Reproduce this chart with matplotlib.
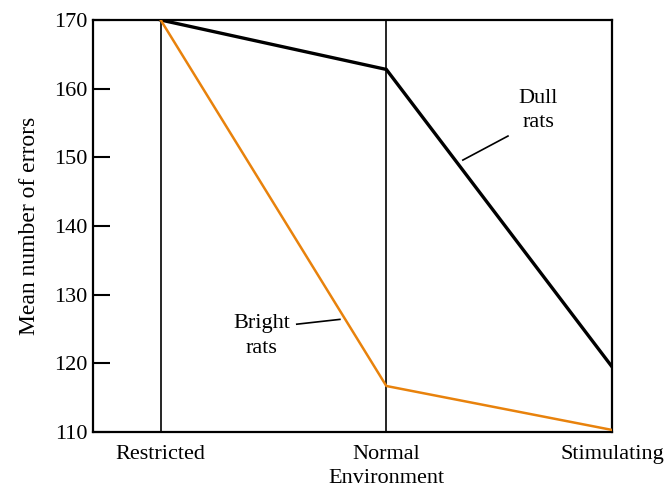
import numpy as np
import matplotlib
matplotlib.use('Agg')
import matplotlib.pyplot as plt

# environment categories and mean errors
environments = ['Restricted', 'Normal\nEnvironment', 'Stimulating']
dull_rats = [170, 162.8, 119.5]
bright_rats = [170, 116.7, 110.3]
y_ticks = [110, 120, 130, 140, 150, 160, 170]

plt.rcParams['font.family'] = ['Liberation Serif', 'DejaVu Serif']

fig = plt.figure(figsize=(6.64, 4.9), dpi=100)
ax = fig.add_axes([93 / 664, 1 - 432 / 490, (612 - 93) / 664, (432 - 20) / 490])

x = np.arange(len(environments))
ax.plot(x, dull_rats, color='black', lw=2.4, solid_joinstyle='miter', zorder=3)
ax.plot(x, bright_rats, color='#e8820c', lw=1.8, zorder=3)

# vertical guides at each environment
for xi in x[:-1]:
    ax.axvline(xi, color='black', lw=1.2, zorder=1)

ax.set_xlim(-0.3, 2)
ax.set_ylim(110, 170)
ax.set_yticks(y_ticks)
ax.set_yticklabels([str(t) for t in y_ticks], fontsize=16)
ax.tick_params(axis='y', direction='in', length=12, width=1.5, pad=4)
ax.set_xticks(x)
ax.set_xticklabels(environments, fontsize=16, linespacing=1.4)
ax.tick_params(axis='x', length=0, pad=9)
ax.set_ylabel('Mean number of errors', fontsize=17, labelpad=10)

for s in ax.spines.values():
    s.set_linewidth(1.6)

# labels with leader lines
ax.text(1.672, 156.8, 'Dull\nrats', ha='center', va='center', fontsize=16, linespacing=1.4)
ax.plot([1.339, 1.539], [149.6, 153.1], color='black', lw=1.2)
ax.text(0.448, 124.0, 'Bright\nrats', ha='center', va='center', fontsize=16, linespacing=1.4)
ax.plot([0.603, 0.794], [125.7, 126.4], color='black', lw=1.2)

fig.savefig('out.png', dpi=100)
